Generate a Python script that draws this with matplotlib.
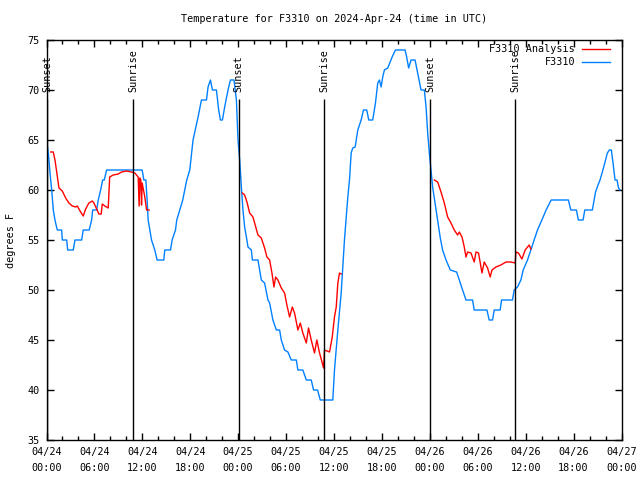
import matplotlib
matplotlib.use("Agg")
import matplotlib.pyplot as plt
import numpy as np

# ---- data (hours since 2024-04-24 00:00 UTC) ----
obs_t = [0.00, 0.23, 0.44, 0.65, 0.85, 1.06, 1.35, 1.90, 1.98, 2.53, 2.65, 3.35, 3.56, 4.40,
         4.60, 5.35, 5.65, 5.78, 6.28, 6.48, 6.78, 7.03, 7.23, 7.53, 11.98, 12.19, 12.44, 12.60,
         12.73, 12.94, 13.15, 13.56, 13.85, 14.69, 14.81, 15.53, 15.73, 16.15, 16.31, 16.69,
         17.06, 17.31, 17.56, 17.94, 18.35, 18.98, 19.40, 20.03, 20.23, 20.53, 20.78, 21.28,
         21.56, 21.78, 22.03, 22.31, 22.73, 23.03, 23.48, 23.78, 23.98, 24.19, 24.40, 24.60,
         24.81, 25.03, 25.23, 25.65, 25.78, 26.48, 26.69, 26.90, 27.31, 27.73, 27.94, 28.35,
         28.78, 29.19, 29.40, 29.81, 30.23, 30.65, 31.28, 31.48, 32.10, 32.53, 33.15, 33.44,
         33.94, 34.28, 35.85, 36.06, 36.48, 36.90, 37.31, 37.73, 37.94, 38.15, 38.35, 38.65,
         38.98, 39.40, 39.69, 40.10, 40.35, 40.85, 41.19, 41.48, 41.69, 41.90, 42.10, 42.31,
         42.73, 43.03, 43.28, 43.69, 44.90, 45.10, 45.35, 45.65, 46.15, 46.48, 46.90, 47.31,
         47.53, 47.73, 47.94, 48.15, 48.35, 48.78, 48.98, 49.31, 49.60, 50.03, 50.56, 51.35,
         51.69, 52.10, 52.53, 53.35, 53.56, 55.15, 55.43, 55.85, 56.06, 56.81, 56.98, 58.35,
         58.56, 58.98, 59.40, 59.69, 60.23, 60.65, 61.06, 61.48, 62.03, 62.56, 63.19, 65.35,
         65.65, 66.35, 66.60, 67.19, 67.40, 68.35, 68.75, 69.06, 69.31, 69.60, 69.94, 70.23,
         70.48, 70.73, 70.94, 71.19, 71.44, 71.63, 71.81]
obs_v = [65, 63.7, 61.7, 60, 58, 57, 56, 56, 55, 55, 54, 54, 55, 55,
         56, 56, 57, 58, 58, 59, 60, 61, 61, 62, 62, 61, 61, 59,
         57, 56, 55, 54, 53, 53, 54, 54, 55, 56, 57, 58,
         59, 60, 61, 62, 65, 67.3, 69, 69, 70.3, 71, 70, 70,
         68, 67, 67, 68.3, 70, 71, 71, 69, 65, 63, 60.3, 58,
         56.3, 55.3, 54.3, 54, 53, 53, 52, 51, 50.7, 49, 48.7, 47,
         46, 46, 45, 44, 43.8, 43, 43, 42, 42, 41, 41, 40,
         40, 39, 39, 42, 46, 49.7, 55, 59.3, 61, 63.7, 64.2, 64.3,
         66, 67, 68, 68, 67, 67, 68.7, 70.7, 71, 70.3, 71.3, 72,
         72.2, 72.8, 73.3, 74, 74, 73.3, 72.2, 73, 73, 71.7, 70, 70,
         68.3, 65.7, 63.7, 62, 60.3, 58, 57, 55.2, 54, 53, 52, 51.8,
         51, 50, 49, 49, 48, 48, 47, 47, 48, 48, 49, 49,
         50, 50.3, 51, 52, 53, 54, 55, 56, 57, 58, 59, 59,
         58, 58, 57, 57, 58, 58, 59.8, 60.5, 61, 61.8, 62.8, 63.7,
         64, 64, 62.7, 61, 61, 60.2, 60]

ana1_t = [0.53, 0.85, 1.06, 1.28, 1.56, 1.98, 2.40, 2.81, 3.23, 3.65, 3.85, 4.28, 4.60, 4.90,
          5.31, 5.73, 5.94, 6.28, 6.56, 6.85, 6.98, 7.31, 7.73, 7.91, 8.35, 8.98, 9.40, 10.03,
          10.65, 11.06, 11.48, 11.60, 11.69, 11.81, 11.90, 11.98, 12.31, 12.53, 12.85]
ana1_v = [63.8, 63.8, 63.0, 61.8, 60.2, 59.9, 59.2, 58.7, 58.4, 58.3, 58.4, 57.8, 57.4, 58.1,
          58.7, 58.9, 58.7, 58.1, 57.6, 57.6, 58.6, 58.4, 58.2, 61.3, 61.5, 61.6, 61.8, 61.9,
          61.8, 61.7, 61.3, 58.4, 61.2, 61.0, 58.5, 60.7, 59.3, 58.0, 58.0]

ana2_t = [24.53, 24.81, 25.10, 25.44, 25.85, 26.06, 26.48, 26.90, 27.31, 27.60, 27.94, 28.23,
          28.48, 28.69, 28.98, 29.40, 29.81, 30.10, 30.44, 30.78, 31.06, 31.48, 31.78, 32.10,
          32.53, 32.81, 33.15, 33.56, 33.85, 34.19, 34.53, 34.69, 34.81, 35.44, 35.78, 36.06,
          36.28, 36.48, 36.69, 36.90]
ana2_v = [59.7, 59.5, 58.8, 57.7, 57.3, 56.7, 55.5, 55.2, 54.2, 53.3, 53.0, 51.7,
          50.3, 51.3, 51.0, 50.2, 49.7, 48.5, 47.3, 48.3, 47.7, 46.0, 46.7, 45.7,
          44.7, 46.2, 45.0, 43.7, 45.0, 43.7, 42.7, 42.2, 44.0, 43.8, 45.3, 47.3,
          48.3, 50.7, 51.7, 51.6]

ana3_t = [48.56, 48.98, 49.40, 49.81, 50.23, 50.65, 51.06, 51.48, 51.69, 52.03, 52.31, 52.53,
          52.73, 53.15, 53.56, 53.78, 54.10, 54.53, 54.81, 55.23, 55.56, 55.78, 56.28, 56.90,
          57.53, 58.15, 58.69, 58.78, 59.10, 59.53, 59.94, 60.44, 60.65]
ana3_v = [61.0, 60.8, 59.8, 58.7, 57.3, 56.7, 56.0, 55.5, 55.8, 55.3, 54.3, 53.3,
          53.8, 53.7, 52.8, 53.8, 53.7, 51.7, 52.8, 52.2, 51.3, 52.0, 52.3, 52.5,
          52.8, 52.8, 52.7, 53.8, 53.7, 53.1, 54.0, 54.5, 54.1]

sun_t = [0.08, 10.85, 24.08, 34.75, 48.08, 58.70]
sun_lbl = ["Sunset", "Sunrise", "Sunset", "Sunrise", "Sunset", "Sunrise"]

xtick_t = [0, 6, 12, 18, 24, 30, 36, 42, 48, 54, 60, 66, 72]
xtick_lbl = ["04/24\n00:00", "04/24\n06:00", "04/24\n12:00", "04/24\n18:00",
             "04/25\n00:00", "04/25\n06:00", "04/25\n12:00", "04/25\n18:00",
             "04/26\n00:00", "04/26\n06:00", "04/26\n12:00", "04/26\n18:00",
             "04/27\n00:00"]
ytick_v = [35, 40, 45, 50, 55, 60, 65, 70, 75]

RED = "#ff0000"
BLUE = "#0080ff"
FONT = "DejaVu Sans Mono"
FS = 7.3

plt.rcParams["font.family"] = FONT
fig = plt.figure(figsize=(6.4, 4.8), dpi=100)
ax = fig.add_axes([46.5 / 640, 40 / 480, 575 / 640, 400 / 480])

ax.plot(obs_t, obs_v, color=BLUE, lw=1.0, zorder=3)
for t, v in ((ana1_t, ana1_v), (ana2_t, ana2_v), (ana3_t, ana3_v)):
    ax.plot(t, v, color=RED, lw=1.0, zorder=4)

for t, lbl in zip(sun_t, sun_lbl):
    ax.vlines(t, 35, 69.1, color="black", lw=1.0, zorder=5)
    ax.text(t, 69.8, lbl, rotation=90, ha="center", va="bottom", fontsize=FS,
            family=FONT, zorder=6)

ax.set_xlim(0, 72)
ax.set_ylim(35, 75)
ax.set_xticks(xtick_t)
ax.set_xticklabels(xtick_lbl, fontsize=FS, linespacing=1.75)
ax.set_xticks(np.arange(0, 73, 2), minor=True)
ax.set_yticks(ytick_v)
ax.set_yticklabels([str(v) for v in ytick_v], fontsize=FS)
ax.tick_params(axis="both", which="major", direction="in", length=5, width=1,
               top=True, right=True)
ax.tick_params(axis="x", which="minor", direction="in", length=3, width=1,
               top=True, bottom=True)
ax.tick_params(axis="x", which="major", pad=5)
ax.tick_params(axis="y", which="major", pad=5)
for s in ax.spines.values():
    s.set_linewidth(1.0)

ax.set_ylabel("degrees F", fontsize=FS, labelpad=8)
fig.text(334 / 640, 1 - 19 / 480, "Temperature for F3310 on 2024-Apr-24 (time in UTC)",
         ha="center", va="center", fontsize=FS)

# key (top right)
kx_text = (575 - 46.5) / 575
kx0 = (582 - 46.5) / 575
kx1 = (610 - 46.5) / 575
for ky, lbl, col in (((440 - 49) / 400, "F3310 Analysis", RED),
                     ((440 - 62) / 400, "F3310", BLUE)):
    ax.text(kx_text, ky, lbl, transform=ax.transAxes, ha="right", va="center",
            fontsize=FS, zorder=7)
    ax.plot([kx0, kx1], [ky, ky], transform=ax.transAxes, color=col, lw=1.0,
            clip_on=False)

fig.savefig("out.png", dpi=100)
